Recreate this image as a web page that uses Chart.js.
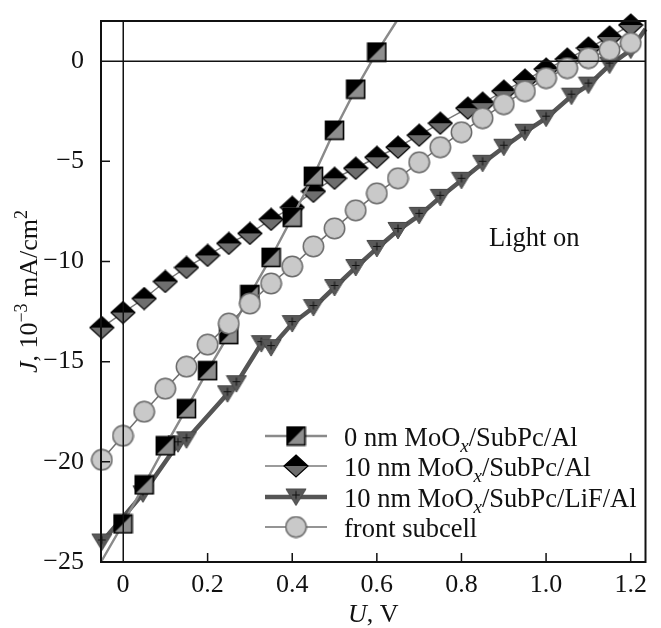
<!DOCTYPE html>
<html><head><meta charset="utf-8">
<style>html,body{margin:0;padding:0;background:#fff;}canvas{display:block}</style>
<script src="https://cdn.jsdelivr.net/npm/chart.js@4/dist/chart.umd.min.js"></script>
</head><body>
<canvas id="c" width="661" height="628"></canvas>
<script>
// ---------- data ----------
const seriesNames = ['0 nm MoOx/SubPc/Al', '10 nm MoOx/SubPc/Al', '10 nm MoOx/SubPc/LiF/Al', 'front subcell'];

const sqX = [0, 0.05, 0.1, 0.15, 0.2, 0.25, 0.3, 0.35, 0.4, 0.45, 0.5, 0.55, 0.6];
const sqY = [-23.1, -21.15, -19.2, -17.35, -15.45, -13.65, -11.65, -9.8, -7.8, -5.75, -3.45, -1.4, 0.45];
const sqLineStart = [-0.052, -25];
const sqLineEnd = [0.647, 2];

const dmX = [-0.05, 0, 0.05, 0.1, 0.15, 0.2, 0.25, 0.3, 0.35, 0.4, 0.45, 0.5, 0.55, 0.6, 0.65, 0.7, 0.75, 0.815, 0.85, 0.9, 0.95, 1.0, 1.05, 1.1, 1.15, 1.2];
const dmY = [-13.3, -12.55, -11.85, -11.0, -10.3, -9.7, -9.1, -8.6, -7.9, -7.3, -6.5, -5.85, -5.35, -4.8, -4.3, -3.7, -3.1, -2.35, -2.1, -1.5, -0.95, -0.4, 0.1, 0.65, 1.2, 1.8];

const trX = [-0.05, 0.047, 0.13, 0.15, 0.247, 0.268, 0.327, 0.35, 0.4, 0.45, 0.5, 0.55, 0.6, 0.65, 0.7, 0.75, 0.8, 0.85, 0.9, 0.95, 1.0, 1.06, 1.1, 1.15, 1.2];
const trY = [-24.0, -21.6, -19.1, -18.9, -16.6, -16.1, -14.1, -14.3, -13.1, -12.3, -11.3, -10.3, -9.35, -8.45, -7.7, -6.8, -5.95, -5.1, -4.3, -3.55, -2.85, -1.75, -1.2, -0.2, 0.55];
const trLineEnd = [1.235, 1.6];

const ccX = [-0.05, 0, 0.05, 0.1, 0.15, 0.2, 0.25, 0.3, 0.35, 0.4, 0.45, 0.5, 0.55, 0.6, 0.65, 0.7, 0.75, 0.8, 0.85, 0.9, 0.95, 1.0, 1.05, 1.1, 1.15, 1.2];
const ccY = [-19.9, -18.7, -17.5, -16.35, -15.25, -14.15, -13.1, -12.1, -11.1, -10.25, -9.25, -8.35, -7.45, -6.6, -5.85, -5.05, -4.3, -3.55, -2.85, -2.15, -1.5, -0.85, -0.35, 0.15, 0.55, 0.9];

const xTickValues = [0, 0.2, 0.4, 0.6, 0.8, 1.0, 1.2];
const xTickLabels = ['0', '0.2', '0.4', '0.6', '0.8', '1.0', '1.2'];
const yTickValues = [0, -5, -10, -15, -20, -25];
const yTickLabels = ['0', '\u22125', '\u221210', '\u221215', '\u221220', '\u221225'];
const xRange = [-0.052, 1.235];
const yRange = [-25, 2];
const annotationText = 'Light on';

// ---------- markers ----------
const SERIF = "'Liberation Serif', 'DejaVu Serif', serif";
const TXT = '#111';
function mk(w, h, fn) { const c = document.createElement('canvas'); c.width = w; c.height = h; fn(c.getContext('2d'), w, h); return c; }
const mSquare = mk(21, 21, (g) => {
  g.fillStyle = '#8e8e8e'; g.fillRect(1.5, 1.5, 18, 18);
  g.fillStyle = '#000'; g.beginPath(); g.moveTo(1.5, 1.5); g.lineTo(19.5, 1.5); g.lineTo(1.5, 19.5); g.closePath(); g.fill();
  g.strokeStyle = '#000'; g.lineWidth = 1.6; g.strokeRect(1.5, 1.5, 18, 18);
});
const mDiamond = mk(26, 24, (g) => {
  g.fillStyle = '#6e6e6e'; g.beginPath(); g.moveTo(1, 12); g.lineTo(13, 23); g.lineTo(25, 12); g.closePath(); g.fill();
  g.fillStyle = '#000'; g.beginPath(); g.moveTo(1, 12); g.lineTo(13, 1); g.lineTo(25, 12); g.closePath(); g.fill();
  g.strokeStyle = '#000'; g.lineWidth = 1.2; g.beginPath(); g.moveTo(13, 1); g.lineTo(25, 12); g.lineTo(13, 23); g.lineTo(1, 12); g.closePath(); g.stroke();
});
const mTri = mk(22, 19, (g) => {
  g.fillStyle = '#585858'; g.strokeStyle = '#4a4a4a'; g.lineWidth = 1;
  g.beginPath(); g.moveTo(1, 1.5); g.lineTo(21, 1.5); g.lineTo(11, 18); g.closePath(); g.fill(); g.stroke();
  g.strokeStyle = '#111'; g.lineWidth = 1;
  g.beginPath(); g.moveTo(11, 3.5); g.lineTo(11, 11.5); g.moveTo(7.2, 7.5); g.lineTo(14.8, 7.5); g.stroke();
});
const mCircle = mk(23, 23, (g) => {
  g.fillStyle = '#c9c9c9'; g.strokeStyle = '#6b6b6b'; g.lineWidth = 1.5;
  g.beginPath(); g.arc(11.5, 11.5, 10.2, 0, Math.PI * 2); g.fill(); g.stroke();
});

const zip = (xs, ys) => xs.map((x, i) => ({ x: x, y: ys[i] }));
const sqData = [{ x: sqLineStart[0], y: sqLineStart[1] }].concat(zip(sqX, sqY), [{ x: sqLineEnd[0], y: sqLineEnd[1] }]);
const trData = zip(trX, trY).concat([{ x: trLineEnd[0], y: trLineEnd[1] }]);
const hideEnds = (n, first, last) => (ctx) => ((first && ctx.dataIndex === 0) || (last && ctx.dataIndex === n - 1)) ? 0 : 11;

const series = [
  { name: seriesNames[0], marker: mSquare, color: '#8a8a8a', width: 2.4 },
  { name: seriesNames[1], marker: mDiamond, color: '#7a7a7a', width: 1.5 },
  { name: seriesNames[2], marker: mTri, color: '#555555', width: 4.5 },
  { name: seriesNames[3], marker: mCircle, color: '#707070', width: 1.5 }
];

// ---------- plugin: frame, zero lines, ticks, titles, legend ----------
function drawRuns(g, runs, x, y, align) {
  let total = 0;
  runs.forEach(r => { g.font = r.font; total += g.measureText(r.t).width; });
  let cx = align === 'center' ? x - total / 2 : x;
  runs.forEach(r => { g.font = r.font; g.fillText(r.t, cx, y + (r.dy || 0)); cx += g.measureText(r.t).width; });
}
const F = (s, it) => (it ? 'italic ' : '') + s + 'px ' + SERIF;
function nameRuns(name) {
  const i = name.indexOf('MoOx');
  if (i < 0) return [{ t: name, font: F(26.5) }];
  return [{ t: name.slice(0, i + 3), font: F(26.5) }, { t: 'x', font: F(19, true), dy: 6 }, { t: name.slice(i + 4), font: F(26.5) }];
}

const deco = {
  id: 'deco',
  afterDatasetsDraw(chart) {
    const g = chart.ctx, a = chart.chartArea, xs = chart.scales.x, ys = chart.scales.y;
    g.save();
    g.strokeStyle = '#111'; g.lineWidth = 1.5;
    const x0 = Math.round(xs.getPixelForValue(0)) + 0.25, y0 = Math.round(ys.getPixelForValue(0)) + 0.25;
    g.beginPath(); g.moveTo(x0, a.top); g.lineTo(x0, a.bottom); g.moveTo(a.left, y0); g.lineTo(a.right, y0); g.stroke();
    g.restore();
  },
  afterDraw(chart) {
    const g = chart.ctx, a = chart.chartArea, xs = chart.scales.x, ys = chart.scales.y;
    g.save();
    g.strokeStyle = '#111'; g.lineWidth = 2;
    g.strokeRect(a.left, a.top, a.right - a.left, a.bottom - a.top);
    g.lineWidth = 1.5; g.beginPath();
    xTickValues.forEach(v => { if (v === 0) return; const p = xs.getPixelForValue(v); g.moveTo(p, a.bottom); g.lineTo(p, a.bottom - 9); });
    yTickValues.forEach(v => { if (v === 0 || v === yRange[0]) return; const p = ys.getPixelForValue(v); g.moveTo(a.left, p); g.lineTo(a.left + 9, p); });
    g.stroke();

    g.fillStyle = TXT; g.textBaseline = 'alphabetic'; g.textAlign = 'left';
    // x title
    drawRuns(g, [{ t: 'U', font: F(26, true) }, { t: ', V', font: F(26) }], (a.left + a.right) / 2, 622, 'center');
    // y title
    g.save(); g.translate(28, (a.top + a.bottom) / 2); g.rotate(-Math.PI / 2);
    drawRuns(g, [{ t: 'J', font: F(26, true) }, { t: ', 10', font: F(26) }, { t: '\u22123', font: F(18), dy: -10 }, { t: ' mA/cm', font: F(26) }, { t: '2', font: F(18), dy: -10 }], 0, 9, 'center');
    g.restore();
    // annotation
    drawRuns(g, [{ t: annotationText, font: F(26.5) }], 489, 246, 'left');
    // legend
    const ly = [436, 466, 497, 527];
    series.forEach((s, i) => {
      g.strokeStyle = s.color; g.lineWidth = s.width;
      g.beginPath(); g.moveTo(265, ly[i]); g.lineTo(327, ly[i]); g.stroke();
      const m = s.marker; g.drawImage(m, 296 - m.width / 2, ly[i] - m.height / 2);
      g.fillStyle = TXT;
      drawRuns(g, nameRuns(s.name), 344, ly[i] + 10, 'left');
    });
    g.restore();
  }
};

new Chart(document.getElementById('c'), {
  type: 'scatter',
  data: {
    datasets: [
      { label: series[3].name, data: zip(ccX, ccY), order: 0, showLine: true, borderColor: series[3].color, borderWidth: series[3].width, pointStyle: mCircle, pointRadius: 11, clip: false },
      { label: series[0].name, data: sqData, order: 1, showLine: true, borderColor: series[0].color, borderWidth: series[0].width, pointStyle: mSquare, pointRadius: hideEnds(sqData.length, true, true), clip: false },
      { label: series[2].name, data: trData, order: 2, showLine: true, borderColor: series[2].color, borderWidth: series[2].width, pointStyle: mTri, pointRadius: hideEnds(trData.length, false, true), clip: false },
      { label: series[1].name, data: zip(dmX, dmY), order: 3, showLine: true, borderColor: series[1].color, borderWidth: series[1].width, pointStyle: mDiamond, pointRadius: 11, clip: false }
    ]
  },
  options: {
    responsive: false, animation: false, devicePixelRatio: 1,
    layout: { padding: { top: 21, right: 15, left: 0, bottom: 0 } },
    plugins: { legend: { display: false }, tooltip: { enabled: false } },
    elements: { line: { tension: 0 } },
    scales: {
      x: {
        type: 'linear', min: xRange[0], max: xRange[1],
        afterBuildTicks: (s) => { s.ticks = xTickValues.map(v => ({ value: v })); },
        afterFit: (s) => { s.height = 66; s.paddingLeft = 0; s.paddingRight = 0; },
        grid: { display: false }, border: { display: false },
        ticks: { padding: 0, autoSkip: false, maxRotation: 0, color: TXT, font: { family: SERIF, size: 26 }, callback: (v, i) => xTickLabels[i] }
      },
      y: {
        type: 'linear', min: yRange[0], max: yRange[1],
        afterBuildTicks: (s) => { s.ticks = yTickValues.map(v => ({ value: v })); },
        afterFit: (s) => { s.width = 101; s.paddingTop = 0; s.paddingBottom = 0; },
        grid: { display: false }, border: { display: false },
        ticks: { padding: 9, autoSkip: false, color: TXT, font: { family: SERIF, size: 26 }, callback: (v, i) => yTickLabels[i] }
      }
    }
  },
  plugins: [deco]
});
</script>
</body></html>
